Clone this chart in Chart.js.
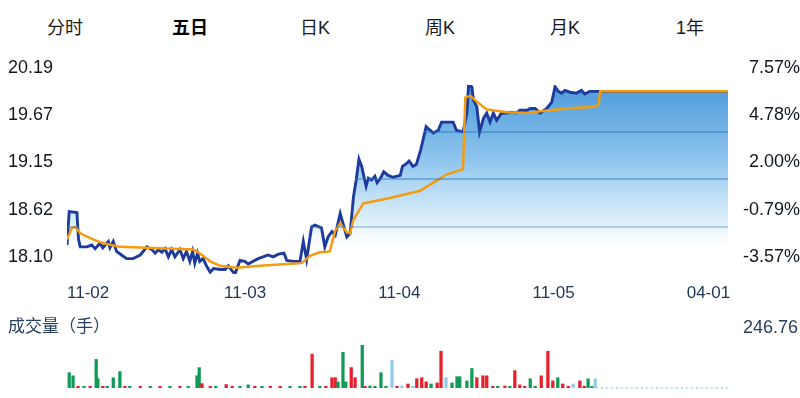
<!DOCTYPE html>
<html>
<head>
<meta charset="utf-8">
<title>五日</title>
<script src="https://cdn.jsdelivr.net/npm/chart.js@4.4.0/dist/chart.umd.min.js"></script>
<style>
  body { margin: 0; background: #fff; width: 800px; height: 398px; overflow: hidden; position: relative;
         font-family: "Liberation Sans", Arial, "Noto Sans CJK SC", sans-serif; }
  .tab { position: absolute; top: 17px; width: 120px; margin-left: -60px; text-align: center;
         font-size: 18px; line-height: 22px; color: #1a1a1a; }
  .tab.on { font-weight: bold; color: #000; }
  #priceChart { position: absolute; left: 0; top: 0; }
  #volChart { position: absolute; left: 0; top: 300px; }
  .vlabel { position: absolute; top: 316px; font-size: 17px; line-height: 22px; color: #27405f; }
</style>
</head>
<body>
<div id="tabs"></div>
<canvas id="priceChart" width="800" height="310"></canvas>
<canvas id="volChart" width="800" height="98"></canvas>
<div class="vlabel" id="volTitle" style="left:8px"></div>
<div class="vlabel" id="volMax" style="left:743px;font-size:18px"></div>

<script>
// ---- data (x = minutes from first open, 240 per trading day) ----
var tabs = ['分时', '五日', '日K', '周K', '月K', '1年'];
var activeTab = 1;
var dates = ['11-02', '11-03', '11-04', '11-05', '04-01'];
var priceTicks = [20.19, 19.67, 19.15, 18.62, 18.10];
var priceLabels = ['20.19', '19.67', '19.15', '18.62', '18.10'];
var pctLabels = ['7.57%', '4.78%', '2.00%', '-0.79%', '-3.57%'];
var volTitle = '成交量（手）';
var maxVol = 246.76;

var priceMin = [0,4,18,21,24,36,45,51,60,65,75,78,84,90,99,108,120,133,145,154,160,166,172,178,184,190,196,205,211,217,223,228,232,237,
  241,247,254,260,266,278,287,293,299,305,314,323,329,338,347,356,365,374,384,394,399,411,423,429,435,444,450,462,468,474,481,
  487,496,501,508,514,520,525,530,535,543,547,553,559,563,569,575,583,592,605,609,616,621,628,634,642,652,659,665,674,680,701,707,719,
  726,729,735,738,744,749,756,762,768,774,780,789,798,807,816,822,835,841,850,859,871,880,886,892,898,904,913,925,934,940,949,960,1200];
var price = [18.42,18.79,18.78,18.48,18.40,18.40,18.42,18.38,18.44,18.39,18.46,18.39,18.46,18.35,18.31,18.27,18.27,18.31,18.40,18.37,18.33,18.37,18.34,18.38,18.29,18.37,18.29,18.37,18.27,18.35,18.24,18.35,18.22,18.33,
  18.24,18.27,18.18,18.12,18.16,18.15,18.15,18.19,18.14,18.10,18.25,18.24,18.21,18.24,18.27,18.29,18.31,18.29,18.32,18.33,18.25,18.24,18.24,18.46,18.26,18.62,18.64,18.61,18.40,18.51,18.57,
  18.53,18.77,18.66,18.51,18.55,18.95,19.14,19.37,19.29,19.07,19.16,19.14,19.18,19.11,19.16,19.23,19.19,19.17,19.19,19.29,19.32,19.35,19.29,19.31,19.47,19.73,19.69,19.66,19.69,19.78,19.78,19.69,19.67,
  19.88,20.19,20.17,20.02,19.95,19.67,19.82,19.88,19.78,19.88,19.80,19.88,19.88,19.89,19.88,19.91,19.91,19.93,19.93,19.88,19.93,20.00,20.17,20.12,20.10,20.13,20.11,20.10,20.13,20.09,20.12,20.12,20.12];

var avgMin = [0,9,15,24,48,66,96,229,241,260,278,308,350,399,426,441,459,477,487,496,
  508,514,520,538,586,641,665,689,719,723,732,747,762,798,835,859,907,956,965,968,1200];
var avgPrice = [18.48,18.61,18.62,18.55,18.48,18.44,18.40,18.37,18.33,18.24,18.19,18.17,18.19,18.21,18.22,18.30,18.34,18.35,18.58,18.66,
  18.56,18.55,18.70,18.88,18.94,19.02,19.11,19.20,19.26,20.05,20.07,19.99,19.92,19.89,19.88,19.90,19.93,19.95,19.97,20.12,20.12];

var volMin = [4,11,20,31,42,53,56,65,73,84,96,105,114,133,151,169,187,205,220,236,240,245,260,270,289,300,314,329,341,354,369,387,405,423,432,
  445,459,470,481,487,492,501,506,516,523,536,541,550,559,570,579,590,599,608,619,628,635,644,652,661,672,679,688,699,708,713,
  726,735,744,755,762,773,782,795,804,813,822,831,841,850,861,873,882,891,900,910,919,931,939,946,953,959];
var volume = [88,70,10,10,10,164,53,10,10,59,94,10,10,10,10,10,10,10,10,70,117,25,10,10,20,10,10,18,10,10,10,10,10,10,10,
  194,10,10,59,59,35,205,35,117,59,246.76,10,12,10,88,10,158,10,12,23,10,53,59,35,23,29,211,59,29,65,65,
  41,112,59,70,70,10,10,12,10,100,18,10,53,10,70,211,41,59,23,10,23,41,10,53,10,53];
// 1 = up (red), -1 = down (green), 0 = unchanged
var volSide = [-1,-1,1,-1,1,-1,-1,1,-1,-1,-1,1,-1,1,-1,1,-1,1,-1,-1,-1,1,1,-1,1,1,-1,-1,1,-1,1,1,-1,-1,1,
  1,-1,1,1,1,-1,-1,-1,1,1,-1,1,-1,-1,-1,-1,0,1,0,1,0,1,1,1,-1,1,1,0,-1,-1,-1,
  -1,-1,1,1,1,1,-1,1,-1,1,1,1,-1,-1,1,1,1,-1,1,1,0,1,1,-1,-1,0];
var idleMin = [960, 1200];
var idleVol = [0, 0];

// ---- page text ----
var tabBox = document.getElementById('tabs');
tabs.forEach(function (t, i) {
  var d = document.createElement('div');
  d.className = 'tab' + (i === activeTab ? ' on' : '');
  d.style.left = (65 + i * 125) + 'px';
  d.textContent = t;
  tabBox.appendChild(d);
});
document.getElementById('volTitle').textContent = volTitle;
document.getElementById('volMax').textContent = maxVol.toFixed(2);

Chart.defaults.font.family = '"Liberation Sans", Arial, "Noto Sans CJK SC", sans-serif';

function pts(xs, ys) {
  return xs.map(function (x, i) { return { x: x, y: ys[i] }; });
}

var dateTickAt = [0, 285, 565, 845, 1125];

// horizontal guides only show inside the shaded area under the price line
var gridInFill = {
  id: 'gridInFill',
  afterDatasetsDraw: function (chart) {
    var ctx = chart.ctx, ca = chart.chartArea, ys = chart.scales.y;
    ctx.save();
    ctx.globalCompositeOperation = 'source-atop';
    ctx.strokeStyle = 'rgba(35,115,190,0.6)';
    ctx.lineWidth = 1.5;
    priceTicks.slice(1, 4).forEach(function (v) {
      var y = Math.round(ys.getPixelForValue(v));
      ctx.beginPath();
      ctx.moveTo(ca.left, y);
      ctx.lineTo(ca.right, y);
      ctx.stroke();
    });
    ctx.restore();
  }
};

var pctx = document.getElementById('priceChart').getContext('2d');
new Chart(pctx, {
  type: 'line',
  data: {
    datasets: [{
      label: '均价',
      data: pts(avgMin, avgPrice),
      borderColor: '#f39c0e',
      borderWidth: 2.5,
      pointRadius: 0,
      tension: 0,
      fill: false
    }, {
      label: '价格',
      data: pts(priceMin, price),
      borderColor: '#1d3a9c',
      borderWidth: 2.9,
      pointRadius: 0,
      tension: 0,
      fill: 'start',
      backgroundColor: function (c) {
        var ca = c.chart.chartArea;
        if (!ca) return 'rgba(0,0,0,0)';
        var g = c.chart.ctx.createLinearGradient(0, ca.top, 0, ca.top + 170);
        g.addColorStop(0, '#4c9bda');
        g.addColorStop(0.45, '#90c6ee');
        g.addColorStop(0.8, 'rgba(215,236,250,0.85)');
        g.addColorStop(1, 'rgba(255,255,255,0)');
        return g;
      }
    }]
  },
  plugins: [gridInFill],
  options: {
    responsive: false,
    animation: false,
    devicePixelRatio: 1,
    events: [],
    layout: { padding: { top: 85, left: 8, right: 0, bottom: 0 } },
    plugins: { legend: { display: false }, tooltip: { enabled: false } },
    scales: {
      x: {
        type: 'linear',
        min: 0,
        max: 1200,
        afterBuildTicks: function (s) { s.ticks = dateTickAt.map(function (v) { return { value: v }; }); },
        afterFit: function (s) { s.height = 36; },
        grid: { display: false, drawTicks: false },
        border: { display: false },
        ticks: {
          autoSkip: false,
          maxRotation: 0,
          align: 'start',
          padding: 9,
          color: '#1f3557',
          font: { size: 17 },
          callback: function (v, i) { return dates[i]; }
        }
      },
      y: {
        position: 'left',
        min: 18.10,
        max: 20.19,
        afterBuildTicks: function (s) { s.ticks = priceTicks.map(function (v) { return { value: v }; }); },
        afterFit: function (s) { s.width = 59; },
        border: { display: false },
        grid: { display: false, drawTicks: false },
        ticks: {
          crossAlign: 'far',
          labelOffset: -17,
          color: '#121820',
          font: { size: 18 },
          callback: function (v, i) { return priceLabels[i]; }
        }
      },
      pct: {
        position: 'right',
        min: 18.10,
        max: 20.19,
        afterBuildTicks: function (s) { s.ticks = priceTicks.map(function (v) { return { value: v }; }); },
        afterFit: function (s) { s.width = 72; },
        border: { display: false },
        grid: { display: false, drawTicks: false },
        ticks: {
          crossAlign: 'far',
          labelOffset: -17,
          color: '#121820',
          font: { size: 18 },
          callback: function (v, i) { return pctLabels[i]; }
        }
      }
    }
  }
});

var volColors = volSide.map(function (s) { return s > 0 ? '#e8202c' : (s < 0 ? '#119a55' : '#92cbea'); });

var vctx = document.getElementById('volChart').getContext('2d');
new Chart(vctx, {
  data: {
    datasets: [{
      type: 'bar',
      data: pts(volMin, volume),
      backgroundColor: volColors,
      barThickness: 2.6,
      borderWidth: 0
    }, {
      type: 'line',
      data: pts(idleMin, idleVol),
      borderColor: '#9fd2ee',
      borderWidth: 1.5,
      borderDash: [2, 3],
      pointRadius: 0,
      clip: false
    }]
  },
  options: {
    responsive: false,
    animation: false,
    devicePixelRatio: 1,
    events: [],
    layout: { padding: { top: 45, left: 67, right: 72, bottom: 10 } },
    plugins: { legend: { display: false }, tooltip: { enabled: false } },
    scales: {
      x: { type: 'linear', min: 0, max: 1200, offset: false, display: false },
      y: { min: 0, max: maxVol, display: false }
    }
  }
});
</script>
</body>
</html>
